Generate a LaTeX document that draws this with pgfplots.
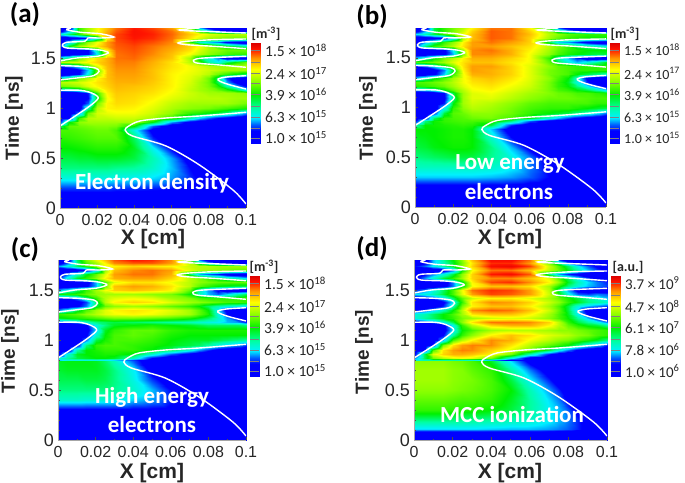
\documentclass[border=0pt]{standalone}
\usepackage{fontspec}
\setmainfont{Liberation Sans}
\newfontfamily\calfont{Carlito}
\usepackage{pgfplots}
\pgfplotsset{compat=1.18}
\pgfplotsset{colormap={tec}{rgb255(0pt)=(0,0,255); rgb255(12pt)=(0,0,255); rgb255(18pt)=(0,90,255); rgb255(27pt)=(0,240,255); rgb255(36pt)=(0,255,160); rgb255(46pt)=(0,240,0); rgb255(57pt)=(130,255,0); rgb255(69pt)=(255,255,0); rgb255(81pt)=(255,150,0); rgb255(92pt)=(255,20,0); rgb255(100pt)=(220,0,0)}}
\pgfplotsset{colormap={tecbar}{rgb255(0pt)=(0,0,255); rgb255(13pt)=(0,0,255); rgb255(19pt)=(0,90,255); rgb255(26pt)=(0,240,255); rgb255(36pt)=(0,255,160); rgb255(49pt)=(0,240,0); rgb255(61pt)=(130,255,0); rgb255(74pt)=(255,255,0); rgb255(85pt)=(255,150,0); rgb255(94pt)=(255,20,0); rgb255(100pt)=(220,0,0)}}
\def\xcols{{0,0.005,0.01,0.015,0.02,0.025,0.03,0.04,0.05,0.06,0.07,0.075,0.08,0.085,0.09,0.095,0.1}}
\newcount\ci
\newcommand\G[3]{\global\ci=0 \foreach \v in {#3}{\pgfmathparse{\xcols[\the\ci]}\xdef#1{#1 (\pgfmathresult,#2) [\v]}\global\advance\ci by 1 }}
\def\A{}\def\B{}\def\C{}\def\D{}
% panel (a)
\G\A{0}{2,2,2,2,2,2,2,2,2,2,2,2,2,2,2,2,2}
\G\A{.1}{6,6,6,6,6,6,6,6,5,5,5,4,4,3,3,2,2}
\G\A{.2}{16,16,16,16,16,16,15,15,14,13,10,9,7,5,3,2,2}
\G\A{.3}{30,30,30,30,30,30,29,28,26,22,15,10,7,4,2,2,2}
\G\A{.4}{38,38,38,38,38,38,37,36,32,24,12,6,3,2,2,2,2}
\G\A{.5}{42,42,43,43,44,44,44,42,34,22,6,3,2,2,2,2,2}
\G\A{.6}{46,46,47,48,49,49,49,44,28,10,3,2,2,2,2,2,2}
\G\A{.7}{49,50,51,52,53,53,53,40,14,4,2,2,2,2,2,2,2}
\G\A{.78}{52,52,53,54,55,55,52,30,8,2,2,2,2,2,2,2,2}
\G\A{.82}{40,54,55,56,57,57,56,46,18,4,2,2,2,2,2,2,2}
\G\A{.86}{15,45,58,60,60,60,60,60,45,22,8,4,2,2,2,2,2}
\G\A{.9}{5,12,50,62,63,63,64,64,60,50,35,25,18,12,8,4,2}
\G\A{.95}{2,4,20,55,65,67,68,68,64,58,50,48,45,42,38,30,22}
\G\A{1}{2,3,6,35,62,70,71,70,66,61,58,57,56,54,52,50,48}
\G\A{1.05}{2,2,5,18,55,70,73,72,68,63,60,60,60,60,60,58,56}
\G\A{1.1}{2,2,4,12,45,68,74,73,70,66,63,62,62,62,61,60,60}
\G\A{1.15}{2,2,4,14,50,70,75,74,72,68,64,62,60,60,60,59,58}
\G\A{1.18}{25,28,35,50,62,72,76,75,73,69,63,60,58,55,50,42,30}
\G\A{1.22}{55,57,60,66,70,74,77,76,74,70,64,60,56,48,35,22,12}
\G\A{1.26}{62,63,65,68,72,75,78,78,75,70,65,60,55,40,22,8,4}
\G\A{1.3}{30,40,55,62,70,76,79,79,76,70,66,62,55,40,15,6,3}
\G\A{1.34}{3,5,12,30,60,76,80,80,76,70,67,65,62,55,50,45,40}
\G\A{1.38}{3,4,10,25,55,76,81,81,76,71,68,66,64,62,60,60,60}
\G\A{1.42}{15,20,30,50,66,77,82,82,77,72,68,65,62,60,60,62,62}
\G\A{1.46}{62,64,66,70,74,78,83,83,78,72,62,50,35,28,40,48,55}
\G\A{1.5}{30,40,55,65,72,78,84,85,80,75,60,40,30,20,6,3,2}
\G\A{1.54}{3,4,6,12,28,65,84,86,82,76,68,62,58,55,52,50,50}
\G\A{1.58}{3,3,5,12,35,70,85,87,83,78,72,65,60,58,55,55,55}
\G\A{1.62}{15,45,60,66,72,80,86,88,84,80,74,68,60,50,45,40,35}
\G\A{1.66}{5,25,45,58,68,80,87,90,87,82,50,30,25,20,10,6,4}
\G\A{1.7}{3,5,8,12,30,70,88,92,90,84,72,65,60,58,56,55,55}
\G\A{1.74}{30,40,50,60,70,80,88,93,91,85,75,70,66,64,62,62,62}
\G\A{1.77}{8,25,50,60,68,78,86,93,90,84,70,45,30,20,8,5,4}
\G\A{1.8}{4,5,50,60,68,76,84,92,88,80,55,25,10,5,3,3,3}
% panel (b)
\G\B{0}{1,1,1,1,1,1,1,1,1,1,1,1,1,1,1,1,1}
\G\B{.1}{3,3,3,3,3,3,3,3,3,3,3,3,2,2,2,2,2}
\G\B{.2}{8,8,8,8,8,8,8,8,8,7,6,5,4,3,2,2,2}
\G\B{.3}{25,25,25,25,25,25,25,24,22,18,12,9,6,3,2,2,2}
\G\B{.4}{33,33,33,33,33,33,33,32,28,20,10,6,3,2,2,2,2}
\G\B{.5}{38,39,40,41,42,42,42,37,30,20,5,3,2,2,2,2,2}
\G\B{.6}{42,43,45,46,47,47,46,38,24,8,3,2,2,2,2,2,2}
\G\B{.7}{44,45,46,47,48,48,46,32,12,3,2,2,2,2,2,2,2}
\G\B{.78}{46,46,46,47,48,48,46,25,5,2,2,2,2,2,2,2,2}
\G\B{.82}{35,46,47,48,49,50,49,42,15,3,2,2,2,2,2,2,2}
\G\B{.86}{12,38,47,50,51,52,52,51,38,18,6,3,2,2,2,2,2}
\G\B{.9}{3,10,40,50,52,53,55,56,52,45,32,24,16,10,6,4,2}
\G\B{.95}{2,4,15,42,53,55,58,58,55,50,46,44,42,38,34,28,20}
\G\B{1}{2,3,5,28,50,58,62,60,56,52,50,50,50,48,46,44,42}
\G\B{1.05}{2,2,4,14,45,60,64,62,58,54,52,52,52,52,52,50,50}
\G\B{1.1}{2,2,3,10,38,60,66,66,62,58,55,55,55,54,53,52,52}
\G\B{1.15}{2,2,3,12,42,60,66,68,64,60,57,55,54,52,52,50,48}
\G\B{1.18}{22,25,32,45,54,62,68,70,66,62,56,52,50,46,42,36,26}
\G\B{1.22}{48,50,52,55,60,66,70,72,68,64,56,50,46,38,28,18,10}
\G\B{1.26}{52,53,55,58,62,68,72,74,70,65,56,50,44,30,14,6,3}
\G\B{1.3}{25,35,45,52,60,68,74,76,72,66,58,52,46,32,10,4,2}
\G\B{1.34}{3,5,10,25,50,68,78,78,74,66,56,54,52,46,42,38,34}
\G\B{1.38}{3,4,8,20,45,70,80,78,74,66,56,54,52,50,50,50,50}
\G\B{1.42}{12,18,28,42,56,72,80,80,74,66,58,54,52,50,50,50,50}
\G\B{1.46}{52,54,56,60,66,72,76,76,72,68,54,42,30,24,30,36,44}
\G\B{1.5}{26,34,46,56,62,70,78,78,74,68,50,34,24,14,5,3,2}
\G\B{1.54}{3,4,6,10,24,56,82,82,78,68,58,52,48,46,44,42,42}
\G\B{1.58}{3,3,5,10,28,60,82,84,78,70,60,54,50,48,46,46,46}
\G\B{1.62}{14,38,50,56,62,72,80,80,76,72,62,56,50,42,38,34,30}
\G\B{1.66}{5,22,38,50,58,70,80,84,80,74,42,26,22,16,8,5,3}
\G\B{1.7}{3,5,7,10,26,60,76,86,84,74,60,54,50,48,46,46,46}
\G\B{1.74}{26,34,42,50,58,68,76,86,84,76,62,58,54,52,50,50,50}
\G\B{1.77}{7,22,42,50,56,64,74,86,84,74,58,38,26,18,7,4,3}
\G\B{1.8}{3,5,42,50,56,62,70,84,84,70,45,20,8,4,3,2,2}
% panel (c)
\G\C{0}{1,1,1,1,1,1,1,1,1,1,1,1,1,1,1,1,1}
\G\C{.1}{2,2,2,2,2,2,2,2,2,2,2,2,2,2,2,2,2}
\G\C{.2}{4,4,4,4,4,4,4,4,4,3,3,2,2,2,2,2,2}
\G\C{.3}{10,10,10,10,10,10,10,10,10,9,6,4,3,2,2,2,2}
\G\C{.4}{32,32,32,31,31,31,30,25,22,14,6,3,2,2,2,2,2}
\G\C{.5}{38,38,38,38,38,38,37,32,24,12,4,2,2,2,2,2,2}
\G\C{.6}{41,41,41,42,42,41,38,30,16,5,2,2,2,2,2,2,2}
\G\C{.7}{43,44,44,44,44,42,38,28,8,2,2,2,2,2,2,2,2}
\G\C{.79}{44,45,45,45,44,40,34,18,3,2,2,2,2,2,2,2,2}
\G\C{.805}{24,30,30,30,30,28,26,16,4,2,2,2,2,2,2,2,2}
\G\C{.825}{30,36,42,44,46,46,44,34,12,3,2,2,2,2,2,2,2}
\G\C{.86}{8,30,44,46,47,48,48,45,32,18,8,4,2,2,2,2,2}
\G\C{.9}{3,8,35,46,48,50,50,50,46,40,30,22,15,8,5,3,2}
\G\C{.95}{2,3,12,38,50,52,52,50,48,45,42,40,36,30,26,22,16}
\G\C{1}{2,2,4,20,42,48,52,52,50,46,44,44,44,42,40,38,36}
\G\C{1.05}{2,2,3,10,32,46,52,54,52,48,46,46,46,46,46,46,46}
\G\C{1.1}{2,2,3,7,26,44,50,54,54,50,48,48,48,48,48,48,48}
\G\C{1.15}{2,2,3,10,30,38,44,46,48,46,44,42,40,40,40,40,38}
\G\C{1.18}{15,18,24,32,38,40,42,40,38,36,34,32,30,28,24,22,14}
\G\C{1.22}{44,46,48,50,52,54,56,56,54,52,48,44,40,32,22,12,6}
\G\C{1.26}{50,52,54,58,62,66,68,70,68,64,60,54,48,30,12,4,2}
\G\C{1.3}{20,30,42,52,60,66,70,72,70,66,60,54,46,28,8,3,2}
\G\C{1.34}{3,5,10,20,42,54,58,60,58,54,50,46,40,35,32,30,26}
\G\C{1.38}{3,4,7,16,40,62,70,74,72,66,60,58,56,54,52,52,50}
\G\C{1.42}{10,14,22,36,50,62,66,68,66,60,56,52,50,50,50,50,52}
\G\C{1.46}{46,48,50,54,58,60,60,60,58,56,46,34,24,18,26,34,40}
\G\C{1.5}{22,30,40,50,60,68,74,76,74,70,54,34,22,10,4,2,2}
\G\C{1.54}{3,4,6,10,24,54,76,80,78,72,62,54,50,46,44,42,42}
\G\C{1.58}{3,3,4,8,24,52,66,72,72,68,62,58,56,54,54,54,54}
\G\C{1.62}{10,30,44,50,58,70,78,80,80,74,62,56,50,42,36,32,26}
\G\C{1.66}{4,18,32,44,54,66,80,84,84,78,40,24,18,14,6,4,2}
\G\C{1.7}{2,4,6,10,24,58,76,82,84,80,66,62,60,58,56,54,54}
\G\C{1.74}{22,30,40,50,60,68,70,74,72,70,64,62,62,60,60,60,60}
\G\C{1.77}{6,18,38,52,60,70,82,86,86,80,62,40,24,14,6,3,2}
\G\C{1.8}{3,4,40,56,66,76,86,92,90,82,50,22,8,3,2,2,2}
% panel (d)
\G\D{0}{8,8,8,8,8,8,8,8,8,7,6,5,4,3,2,2,2}
\G\D{.07}{3,3,3,3,3,3,3,3,3,3,3,3,3,3,2,2,2}
\G\D{.11}{26,26,26,26,26,26,26,25,24,24,22,20,18,14,8,3,2}
\G\D{.2}{38,38,38,38,38,37,37,36,34,32,28,24,20,14,6,2,2}
\G\D{.3}{50,50,50,50,49,48,48,46,42,36,28,24,18,8,2,2,2}
\G\D{.4}{54,54,54,54,53,52,52,50,44,36,26,20,10,3,2,2,2}
\G\D{.5}{58,58,58,58,57,56,55,52,46,34,22,14,5,2,2,2,2}
\G\D{.6}{60,60,60,60,58,57,56,52,42,28,14,5,2,2,2,2,2}
\G\D{.7}{60,60,60,60,58,57,54,50,36,20,6,2,2,2,2,2,2}
\G\D{.79}{58,58,58,58,56,55,52,44,26,8,2,2,2,2,2,2,2}
\G\D{.805}{30,34,36,36,36,34,32,24,8,3,2,2,2,2,2,2,2}
\G\D{.825}{20,40,56,62,66,68,66,56,30,6,2,2,2,2,2,2,2}
\G\D{.86}{10,40,66,74,78,78,76,70,56,34,14,5,2,2,2,2,2}
\G\D{.9}{4,8,52,72,80,83,82,74,66,56,42,30,20,10,4,2,2}
\G\D{.95}{2,3,14,56,72,80,83,82,72,62,54,50,46,38,30,24,14}
\G\D{1}{2,2,4,24,52,62,70,82,78,68,62,58,56,52,48,44,38}
\G\D{1.05}{2,2,3,12,36,50,58,70,76,72,66,64,62,58,56,52,50}
\G\D{1.1}{2,2,3,6,28,46,52,60,62,62,60,58,58,56,54,52,50}
\G\D{1.15}{2,2,3,8,30,50,62,74,78,78,70,62,54,48,44,42,36}
\G\D{1.18}{12,14,20,30,42,58,72,84,84,82,74,62,50,42,36,30,20}
\G\D{1.22}{30,36,40,46,50,56,60,64,66,64,58,52,46,36,24,12,6}
\G\D{1.26}{30,34,40,46,52,60,72,76,76,70,60,52,44,28,10,4,2}
\G\D{1.3}{12,16,24,34,46,62,82,86,84,76,64,54,42,24,6,3,2}
\G\D{1.34}{2,3,6,14,34,56,70,76,76,70,60,52,42,30,24,20,16}
\G\D{1.38}{2,3,5,10,28,50,72,82,80,74,64,58,50,44,38,36,32}
\G\D{1.42}{6,10,16,26,40,54,64,70,70,66,60,54,48,42,36,32,24}
\G\D{1.46}{26,30,34,42,52,66,80,88,86,80,64,46,30,18,16,20,18}
\G\D{1.5}{14,20,30,40,52,68,84,90,88,80,62,40,22,8,3,2,2}
\G\D{1.54}{2,3,4,8,20,44,68,76,76,72,60,48,38,30,24,20,16}
\G\D{1.58}{2,2,3,6,20,44,70,88,90,82,70,58,44,34,26,20,14}
\G\D{1.62}{6,20,32,42,50,60,74,82,82,76,66,52,40,28,16,8,3}
\G\D{1.66}{2,10,20,30,42,58,74,92,94,86,38,22,14,8,3,2,2}
\G\D{1.7}{2,2,3,6,18,46,68,84,84,76,62,54,44,34,24,16,10}
\G\D{1.74}{12,18,28,36,46,58,74,94,96,88,64,52,40,28,18,10,6}
\G\D{1.77}{4,10,24,34,44,56,72,90,90,80,56,36,20,10,3,2,2}
\G\D{1.8}{2,3,24,36,46,58,76,94,94,84,46,18,6,2,2,2,2}
\newcommand\contours{%
\addplot[white,line width=1.4pt,smooth] coordinates {(0.1,0.04)(0.093,0.18)(0.075,0.43)(0.057,0.62)(0.039,0.72)(0.035,0.78)(0.037,0.82)(0.043,0.87)(0.057,0.90)(0.075,0.92)(0.1,0.957)};
\addplot[white,line width=1.4pt,smooth] coordinates {(0,0.82)(0.009,0.93)(0.016,1.02)(0.0206,1.10)(0.017,1.15)(0.011,1.177)(0,1.177)};
\addplot[white,line width=1.4pt,smooth] coordinates {(0,1.28)(0.009,1.30)(0.018,1.323)(0.021,1.367)(0.019,1.40)(0.011,1.417)(0,1.423)};
\addplot[white,line width=1.4pt,smooth] coordinates {(0,1.47)(0.009,1.50)(0.02,1.517)(0.026,1.55)(0.023,1.575)(0.016,1.59)(0.0036,1.6)(0.0013,1.63)(0.0036,1.657)(0.0134,1.667)(0.015,1.70)(0.022,1.70)(0.029,1.71)(0.0215,1.743)(0.011,1.757)(0.0036,1.783)(0.006,1.8)};
\addplot[white,line width=1.4pt,smooth] coordinates {(0.1,1.19)(0.091,1.233)(0.086,1.267)(0.085,1.29)(0.0896,1.31)(0.1,1.323)};
\addplot[white,line width=1.4pt,smooth] coordinates {(0.1,1.407)(0.084,1.433)(0.0735,1.45)(0.0717,1.477)(0.0753,1.497)(0.086,1.507)(0.1,1.517)};
\addplot[white,line width=1.4pt,smooth] coordinates {(0.1,1.593)(0.0824,1.617)(0.068,1.633)(0.0634,1.65)(0.068,1.667)(0.0824,1.683)(0.1,1.69)};
\addplot[white,line width=1.4pt,smooth] coordinates {(0.1,1.75)(0.0824,1.763)(0.0645,1.777)(0.068,1.79)(0.075,1.8)};
}
\newcommand\heat[5]{% left, right, top, bottom (px), points
\begin{axis}[scale only axis,at={(#1pt,482pt-#4pt)},anchor=south west,
 width=#2pt-#1pt,height=#4pt-#3pt,xmin=0,xmax=0.1,ymin=0,ymax=1.8,
 colormap name=tec,point meta min=0,point meta max=100,
 axis x line*=bottom,axis y line*=left,axis line style={-,gray!70,thin},
 xtick={0,0.02,0.04,0.06,0.08,0.1},xticklabels={0,0.02,0.04,0.06,0.08,0.1},
 ytick={0,0.5,1,1.5},yticklabels={0,0.5,1,1.5},minor y tick num=4,minor x tick num=1,
 tick style={black!70,thin},major tick length=3pt,minor tick length=1.5pt,tick pos=left,tick align=inside,
 xticklabel style={font=\fontsize{16}{16}\selectfont,inner sep=1pt,text=black!85,yshift=-5pt},
 yticklabel style={font=\fontsize{18}{18}\selectfont,inner sep=1pt,text=black!85,xshift=-3pt},
 clip=true,axis on top]
\edef\tmp{\noexpand\addplot[surf,shader=interp,mesh/cols=17,point meta=explicit] coordinates {#5};}\tmp
\contours
\end{axis}}
\newcommand\cbar[8]{% left, top, five labels, font size
\begin{axis}[scale only axis,at={(#1pt,482pt-#2pt-101pt)},anchor=south west,
 width=9pt,height=101pt,xmin=0,xmax=1,ymin=0,ymax=100,
 colormap name=tecbar,point meta min=0,point meta max=100,
 axis line style={draw=none},xtick=\empty,tick pos=right,
 ytick={6,27,49,70,93},yticklabels={#3,#4,#5,#6,#7},
 major tick length=0pt,minor tick length=0pt,
 extra y ticks={16,38,60,81},extra y tick labels={},
 ymajorgrids,grid style={black!50,very thin},
 yticklabel style={font=\calfont\fontsize{#8}{#8}\selectfont,inner sep=0pt,xshift=5pt,text=black!85},
 axis on top]
\addplot[surf,shader=interp,mesh/cols=2,point meta=y] coordinates {(0,0)(1,0)(0,100)(1,100)};
\end{axis}}
\newcommand\lab[4]{\node[font=\bfseries\fontsize{#4}{#4}\selectfont,text=black!85] at (#1pt,482pt-#2pt) {#3};}
\newcommand\timelab[2]{\node[rotate=90,font=\bfseries\fontsize{19}{19}\selectfont,text=black!85] at (#1pt,482pt-#2pt) {Time [ns]};}
\newcommand\plab[3]{\node[font=\calfont\bfseries\fontsize{27}{27}\selectfont] at (#1pt,482pt-#2pt) {#3};}
\newcommand\wlab[3]{\node[font=\calfont\bfseries\fontsize{23}{23}\selectfont,text=white] at (#1pt,482pt-#2pt) {#3};}
\newcommand\ulab[3]{\node[font=\calfont\bfseries\fontsize{14}{14}\selectfont,text=black!85] at (#1pt,482pt-#2pt) {#3};}
\begin{document}
\begin{tikzpicture}[x=1pt,y=1pt]
\path[use as bounding box] (0pt,0pt) rectangle (685pt,482pt);
\heat{60}{246}{28}{208}{\A}
\heat{415}{606}{28}{207}{\B}
\heat{58}{246}{260}{440}{\C}
\heat{414}{607}{260}{440}{\D}
\cbar{251}{43}{1.0 × 10\textsuperscript{15}}{6.3 × 10\textsuperscript{15}}{3.9 × 10\textsuperscript{16}}{2.4 × 10\textsuperscript{17}}{1.5 × 10\textsuperscript{18}}{15.5}
\cbar{610}{43}{1.0 × 10\textsuperscript{15}}{6.3 × 10\textsuperscript{15}}{3.9 × 10\textsuperscript{16}}{2.4 × 10\textsuperscript{17}}{1.5 × 10\textsuperscript{18}}{14}
\cbar{250}{276}{1.0 × 10\textsuperscript{15}}{6.3 × 10\textsuperscript{15}}{3.9 × 10\textsuperscript{16}}{2.4 × 10\textsuperscript{17}}{1.5 × 10\textsuperscript{18}}{15.5}
\cbar{611}{276}{1.0 × 10\textsuperscript{6}}{7.8 × 10\textsuperscript{6}}{6.1 × 10\textsuperscript{7}}{4.7 × 10\textsuperscript{8}}{3.7 × 10\textsuperscript{9}}{15}
\lab{153}{239}{X [cm]}{21}
\lab{510}{239}{X [cm]}{21}
\lab{152}{473}{X [cm]}{21}
\lab{510}{473}{X [cm]}{21}
\timelab{14}{118}\timelab{368}{118}\timelab{10}{351}\timelab{364}{352}
\plab{25}{15}{(a)}\plab{372}{17}{(b)}\plab{25}{250}{(c)}\plab{372}{249}{(d)}
\wlab{152}{183}{Electron density}
\wlab{510}{164}{Low energy}\wlab{509}{192}{electrons}
\wlab{152}{397}{High energy}\wlab{152}{425}{electrons}
\wlab{512}{414}{MCC ionization}
\ulab{266}{34}{[m\textsuperscript{-3}]}\ulab{625}{34}{[m\textsuperscript{-3}]}\ulab{264}{267}{[m\textsuperscript{-3}]}\ulab{628}{267}{[a.u.]}
\end{tikzpicture}
\end{document}
